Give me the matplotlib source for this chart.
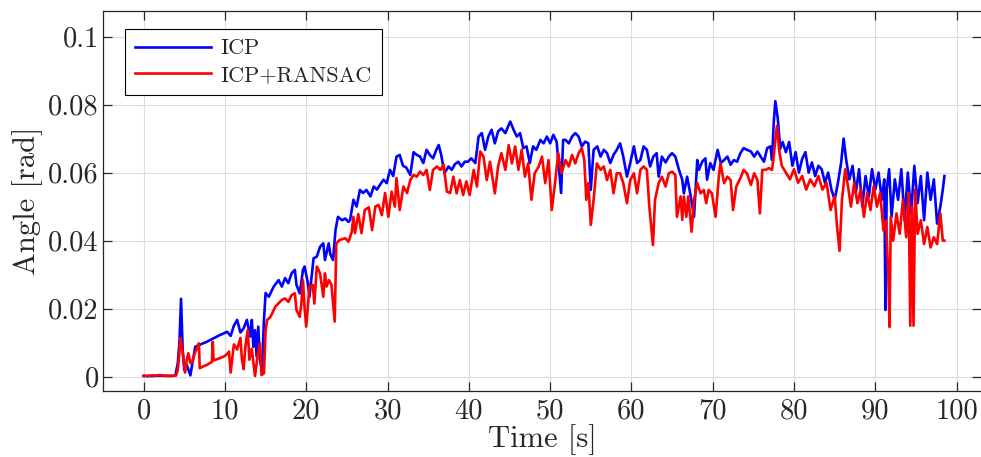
import matplotlib
matplotlib.use("Agg")
import matplotlib.pyplot as plt

# ---------------- data ----------------
t_icp = [0.0, 1.0, 2.0, 3.0, 3.9, 4.2, 4.4, 4.6, 4.8, 5.0, 5.3, 5.75, 6.0, 6.35, 7.0, 7.8,
         8.6, 9.43, 10.26, 10.7, 11.1, 11.5, 11.9, 12.3, 12.7, 13.1, 13.3, 13.5, 13.7, 13.9,
         14.1, 14.3, 14.55, 14.8, 15.0, 15.4, 16.0, 16.6, 17.0, 17.4, 17.8, 18.2, 18.6, 18.8,
         19.2, 19.6, 19.8, 20.2, 20.4, 20.9, 21.3, 21.7, 22.1, 22.3, 22.76, 22.96, 23.3, 23.6,
         23.9, 24.4, 24.8, 25.2, 25.4, 25.8, 26.2, 26.6, 27.0, 27.4, 27.9, 28.3, 28.7, 29.1,
         29.5, 29.9, 30.3, 30.7, 31.1, 31.5, 31.9, 32.3, 32.8, 33.2, 33.6, 34.0, 34.4, 34.8,
         35.2, 35.6, 36.0, 36.3, 36.6, 37.0, 37.5, 37.9, 38.3, 38.7, 39.1, 39.5, 39.9, 40.3,
         40.8, 41.2, 41.6, 42.0, 42.4, 42.8, 43.2, 43.6, 44.0, 44.5, 44.9, 45.1, 45.5, 45.9,
         46.3, 46.7, 47.1, 47.5, 47.9, 48.3, 48.8, 49.2, 49.6, 50.0, 50.4, 50.8, 51.35, 51.6,
         51.9, 52.3, 52.7, 53.1, 53.5, 53.9, 54.3, 54.7, 55.0, 55.35, 55.8, 56.2, 56.6, 57.0,
         57.4, 57.8, 58.2, 58.6, 59.0, 59.45, 59.85, 60.3, 60.7, 61.1, 61.5, 61.9, 62.3, 62.7,
         63.1, 63.35, 63.75, 64.2, 64.6, 65.0, 65.4, 65.85, 66.25, 66.45, 66.85, 67.3, 67.7,
         68.1, 68.3, 68.7, 69.1, 69.3, 69.7, 70.1, 70.6, 71.0, 71.4, 71.8, 72.2, 72.6, 73.0,
         73.4, 73.8, 74.2, 74.7, 75.1, 75.5, 75.9, 76.3, 76.7, 77.1, 77.3, 77.5, 77.7, 78.0,
         78.3, 78.6, 79.0, 79.4, 79.8, 80.2, 80.6, 81.0, 81.4, 81.8, 82.2, 82.6, 83.0, 83.4,
         83.8, 84.2, 84.6, 85.0, 85.4, 85.8, 86.1, 86.4, 86.8, 87.2, 87.6, 88.0, 88.4, 88.8,
         89.2, 89.6, 90.0, 90.4, 90.8, 91.1, 91.25, 91.4, 91.7, 92.0, 92.4, 92.8, 93.2, 93.6,
         94.0, 94.4, 94.8, 95.2, 95.6, 96.0, 96.4, 96.8, 97.2, 97.6, 98.0, 98.3, 98.5]
icp = [0.0002, 0.0002, 0.0003, 0.0002, 0.0003, 0.004, 0.010, 0.0229, 0.008, 0.002, 0.0035,
       0.0004, 0.004, 0.0088, 0.0095, 0.0103, 0.0113, 0.0123, 0.0132, 0.012, 0.015, 0.0167,
       0.013, 0.0142, 0.0167, 0.0118, 0.0167, 0.0088, 0.0137, 0.0059, 0.0147, 0.005, 0.002,
       0.0167, 0.0246, 0.0235, 0.0265, 0.0284, 0.0265, 0.029, 0.0275, 0.0304, 0.0314, 0.027,
       0.0245, 0.0314, 0.0324, 0.0275, 0.0235, 0.0348, 0.0353, 0.0382, 0.0392, 0.0343, 0.0392,
       0.036, 0.0343, 0.0431, 0.047, 0.046, 0.0465, 0.0455, 0.0461, 0.052, 0.050, 0.0549,
       0.054, 0.0549, 0.053, 0.0559, 0.055, 0.0565, 0.0579, 0.0569, 0.0608, 0.059, 0.0647,
       0.0652, 0.062, 0.0615, 0.0593, 0.066, 0.0652, 0.0647, 0.0628, 0.0667, 0.0652, 0.0642,
       0.0667, 0.0681, 0.0652, 0.0598, 0.0618, 0.0608, 0.0625, 0.0632, 0.0618, 0.0632, 0.0632,
       0.0642, 0.0628, 0.0706, 0.0716, 0.0667, 0.0706, 0.0726, 0.0686, 0.0721, 0.0730, 0.0716,
       0.0740, 0.0750, 0.0726, 0.0706, 0.0716, 0.0672, 0.0677, 0.0628, 0.0677, 0.0667, 0.0696,
       0.0686, 0.0706, 0.0686, 0.0711, 0.0691, 0.0540, 0.0696, 0.0696, 0.0686, 0.0706, 0.0716,
       0.0706, 0.0677, 0.0691, 0.0686, 0.0549, 0.0667, 0.0677, 0.0647, 0.0667, 0.0657, 0.0628,
       0.0652, 0.0667, 0.0686, 0.0647, 0.0588, 0.0628, 0.0677, 0.0628, 0.0637, 0.0677, 0.0667,
       0.0618, 0.0647, 0.0657, 0.0588, 0.0647, 0.0630, 0.0647, 0.0657, 0.0647, 0.0608, 0.0579,
       0.0539, 0.0588, 0.053, 0.047, 0.0637, 0.0608, 0.0632, 0.0642, 0.0579, 0.0628, 0.0608,
       0.0667, 0.0628, 0.0637, 0.0647, 0.0623, 0.0637, 0.0632, 0.0657, 0.0672, 0.0667, 0.0662,
       0.0647, 0.0662, 0.0647, 0.0632, 0.0672, 0.0677, 0.0637, 0.0745, 0.081, 0.076, 0.067,
       0.069, 0.066, 0.069, 0.062, 0.066, 0.060, 0.064, 0.066, 0.060, 0.063, 0.059, 0.062,
       0.061, 0.057, 0.060, 0.055, 0.052, 0.057, 0.063, 0.070, 0.064, 0.058, 0.062, 0.054,
       0.061, 0.050, 0.059, 0.053, 0.061, 0.055, 0.060, 0.052, 0.058, 0.0196, 0.055, 0.061,
       0.047, 0.058, 0.052, 0.061, 0.046, 0.060, 0.048, 0.062, 0.051, 0.059, 0.046, 0.060,
       0.052, 0.058, 0.045, 0.050, 0.055, 0.059]

t_ransac = [0.0, 0.5, 1.0, 1.5, 2.0, 2.5, 3.0, 3.5, 4.0, 4.2, 4.4, 4.5, 4.7, 4.9, 5.1, 5.3,
            5.5, 5.75, 5.95, 6.3, 6.6, 6.8, 6.9, 7.3, 7.8, 8.4, 8.5, 8.6, 9.2, 9.84, 10.2, 10.5,
            10.7, 11.1, 11.5, 11.9, 12.1, 12.3, 12.5, 12.8, 13.0, 13.3, 13.7, 14.0, 14.3, 14.5,
            14.8, 15.0, 15.2, 15.6, 16.0, 16.2, 16.6, 17.0, 17.4, 17.8, 18.2, 18.6, 18.8, 19.2,
            19.4, 19.6, 19.8, 20.0, 20.4, 20.8, 21.0, 21.3, 21.7, 22.1, 22.3, 22.5, 22.8, 23.1,
            23.5, 23.7, 24.1, 24.8, 25.2, 25.6, 25.8, 26.0, 26.4, 26.8, 27.2, 27.7, 28.1, 28.5,
            28.9, 29.3, 29.7, 30.1, 30.5, 30.9, 31.1, 31.5, 31.95, 32.4, 32.8, 33.2, 33.6, 34.0,
            34.4, 34.8, 35.2, 35.6, 36.1, 36.5, 36.9, 37.3, 37.7, 38.1, 38.5, 38.9, 39.3, 39.7,
            40.1, 40.6, 41.0, 41.4, 41.8, 42.2, 42.6, 43.0, 43.2, 43.6, 44.0, 44.5, 44.9, 45.3,
            45.7, 46.1, 46.5, 46.9, 47.3, 47.7, 48.1, 48.6, 49.0, 49.4, 49.8, 50.2, 50.6, 51.0,
            51.4, 51.9, 52.3, 52.7, 53.1, 53.5, 53.9, 54.2, 54.45, 54.7, 55.0, 55.35, 55.75,
            56.2, 56.6, 57.0, 57.4, 57.8, 58.2, 58.6, 59.0, 59.45, 59.85, 60.3, 60.7, 61.1, 61.5,
            61.9, 62.2, 62.65, 62.9, 63.35, 63.75, 64.2, 64.6, 65.0, 65.4, 65.6, 66.05, 66.25,
            66.45, 66.75, 67.0, 67.4, 67.7, 68.1, 68.5, 68.9, 69.2, 69.5, 69.9, 70.35, 70.75,
            70.95, 71.4, 71.8, 72.2, 72.5, 72.9, 73.4, 73.8, 74.2, 74.7, 75.1, 75.5, 75.8, 76.1,
            76.5, 76.9, 77.3, 77.5, 77.7, 77.9, 78.2, 78.5, 79.0, 79.5, 80.0, 80.5, 81.0, 81.5,
            82.0, 82.5, 83.0, 83.5, 84.0, 84.5, 85.0, 85.3, 85.6, 85.9, 86.3, 86.7, 87.0, 87.4,
            87.8, 88.2, 88.6, 89.0, 89.4, 89.8, 90.2, 90.6, 91.0, 91.3, 91.6, 91.75, 91.9, 92.2,
            92.6, 93.0, 93.4, 93.8, 94.1, 94.3, 94.5, 94.7, 94.9, 95.2, 95.6, 96.0, 96.4, 96.8,
            97.2, 97.6, 98.0, 98.3, 98.5]
ransac = [0.0003, 0.0002, 0.0004, 0.0003, 0.0005, 0.0003, 0.0003, 0.0002, 0.0004, 0.002,
          0.007, 0.0113, 0.009, 0.005, 0.0012, 0.005, 0.0069, 0.004, 0.004, 0.007, 0.0085,
          0.0098, 0.0025, 0.003, 0.0035, 0.0044, 0.0103, 0.0048, 0.0053, 0.0059, 0.0065, 0.0074,
          0.0012, 0.0095, 0.0080, 0.0114, 0.0049, 0.0022, 0.0085, 0.0137, 0.0050, 0.0082,
          0.0002, 0.006, 0.0098, 0.0005, 0.001, 0.0137, 0.0167, 0.0176, 0.0196, 0.0206, 0.0216,
          0.0226, 0.0230, 0.0220, 0.0240, 0.0245, 0.0196, 0.0176, 0.0215, 0.0284, 0.0200,
          0.0147, 0.0265, 0.0270, 0.0215, 0.0324, 0.0304, 0.0235, 0.0304, 0.0265, 0.0284,
          0.0270, 0.0162, 0.0392, 0.0402, 0.0407, 0.0397, 0.0426, 0.047, 0.0422, 0.0478, 0.0422,
          0.049, 0.0498, 0.0431, 0.050, 0.0505, 0.0475, 0.054, 0.047, 0.0544, 0.050, 0.0584,
          0.049, 0.0559, 0.054, 0.0578, 0.0593, 0.0588, 0.0603, 0.0593, 0.0608, 0.0549, 0.0608,
          0.0618, 0.0608, 0.0623, 0.0544, 0.054, 0.0588, 0.0539, 0.0578, 0.0534, 0.0574, 0.0534,
          0.0608, 0.0559, 0.0662, 0.0647, 0.0578, 0.0632, 0.0569, 0.0539, 0.0618, 0.0657,
          0.0608, 0.0681, 0.0627, 0.0677, 0.0608, 0.0667, 0.0588, 0.0627, 0.052, 0.0598, 0.0618,
          0.0647, 0.0569, 0.0637, 0.049, 0.0569, 0.0657, 0.0598, 0.0637, 0.0618, 0.0652, 0.0627,
          0.0657, 0.0672, 0.0637, 0.052, 0.0569, 0.0446, 0.052, 0.0627, 0.0608, 0.0618, 0.0578,
          0.0608, 0.0539, 0.0598, 0.0598, 0.0569, 0.051, 0.0578, 0.0598, 0.0539, 0.0608, 0.0618,
          0.0608, 0.0500, 0.0387, 0.052, 0.0569, 0.0588, 0.0559, 0.0598, 0.0603, 0.0593, 0.047,
          0.053, 0.0461, 0.053, 0.047, 0.053, 0.0426, 0.052, 0.0569, 0.0539, 0.0549, 0.051,
          0.0549, 0.0539, 0.047, 0.0588, 0.0627, 0.0569, 0.0588, 0.0578, 0.049, 0.0559, 0.0583,
          0.0608, 0.0598, 0.0564, 0.0598, 0.0578, 0.048, 0.0608, 0.0608, 0.0613, 0.0608, 0.0647,
          0.0696, 0.0737, 0.066, 0.062, 0.060, 0.058, 0.061, 0.057, 0.059, 0.055, 0.058, 0.056,
          0.059, 0.055, 0.057, 0.049, 0.053, 0.044, 0.037, 0.052, 0.061, 0.055, 0.050, 0.057,
          0.051, 0.055, 0.047, 0.054, 0.049, 0.056, 0.050, 0.054, 0.043, 0.046, 0.030, 0.0146,
          0.047, 0.040, 0.048, 0.042, 0.052, 0.041, 0.054, 0.015, 0.050, 0.015, 0.055, 0.042,
          0.046, 0.039, 0.044, 0.038, 0.041, 0.039, 0.048, 0.040, 0.040]

series_labels = ["ICP", "ICP+RANSAC"]
x_ticks = [0, 10, 20, 30, 40, 50, 60, 70, 80, 90, 100]
y_ticks = [0, 0.02, 0.04, 0.06, 0.08, 0.1]
y_tick_labels = ["0", "0.02", "0.04", "0.06", "0.08", "0.1"]
x_label = "Time [s]"
y_label = "Angle [rad]"

# ---------------- styling ----------------
plt.rcParams["font.family"] = ["cmr10", "DejaVu Serif"]
plt.rcParams["axes.formatter.use_mathtext"] = True
plt.rcParams["mathtext.fontset"] = "cm"
txt = "#262626"

fig = plt.figure(figsize=(9.81, 4.57), dpi=100)
ax = fig.add_axes([103 / 981, 66 / 457, 878 / 981, 380 / 457])

ax.plot(t_icp, icp, color=(0, 0, 1), lw=1.9, label=series_labels[0], zorder=3)
ax.plot(t_ransac, ransac, color=(1, 0, 0), lw=1.9, label=series_labels[1], zorder=4)

ax.set_xlim(-5, 103)
ax.set_ylim(-0.0042, 0.1075)
ax.set_xticks(x_ticks)
ax.set_xticklabels([str(v) for v in x_ticks])
ax.set_yticks(y_ticks)
ax.set_yticklabels(y_tick_labels)

ax.grid(True, color="#dcdcdc", lw=0.8)
ax.set_axisbelow(True)
for s in ["left", "bottom", "top"]:
    ax.spines[s].set_color(txt)
    ax.spines[s].set_linewidth(0.9)
ax.spines["right"].set_visible(False)
ax.tick_params(direction="in", length=6.5, width=0.9, color=txt, labelcolor=txt,
               labelsize=20.5, top=True, right=True)
ax.tick_params(axis="y", pad=3)
ax.tick_params(axis="x", pad=5)

ax.set_xlabel(x_label, fontsize=22, color=txt, labelpad=0)
ax.set_ylabel(y_label, fontsize=22, color=txt, labelpad=4)

leg = ax.legend(loc="upper left", bbox_to_anchor=(0.025, 0.953), borderaxespad=0,
                fontsize=16, handlelength=3.4, frameon=True, fancybox=False,
                framealpha=1, edgecolor="black", borderpad=0.45, labelspacing=0.3,
                handletextpad=0.45)
leg.get_frame().set_linewidth(0.8)
for t in leg.get_texts():
    t.set_color(txt)

fig.savefig("out.png", dpi=100)
